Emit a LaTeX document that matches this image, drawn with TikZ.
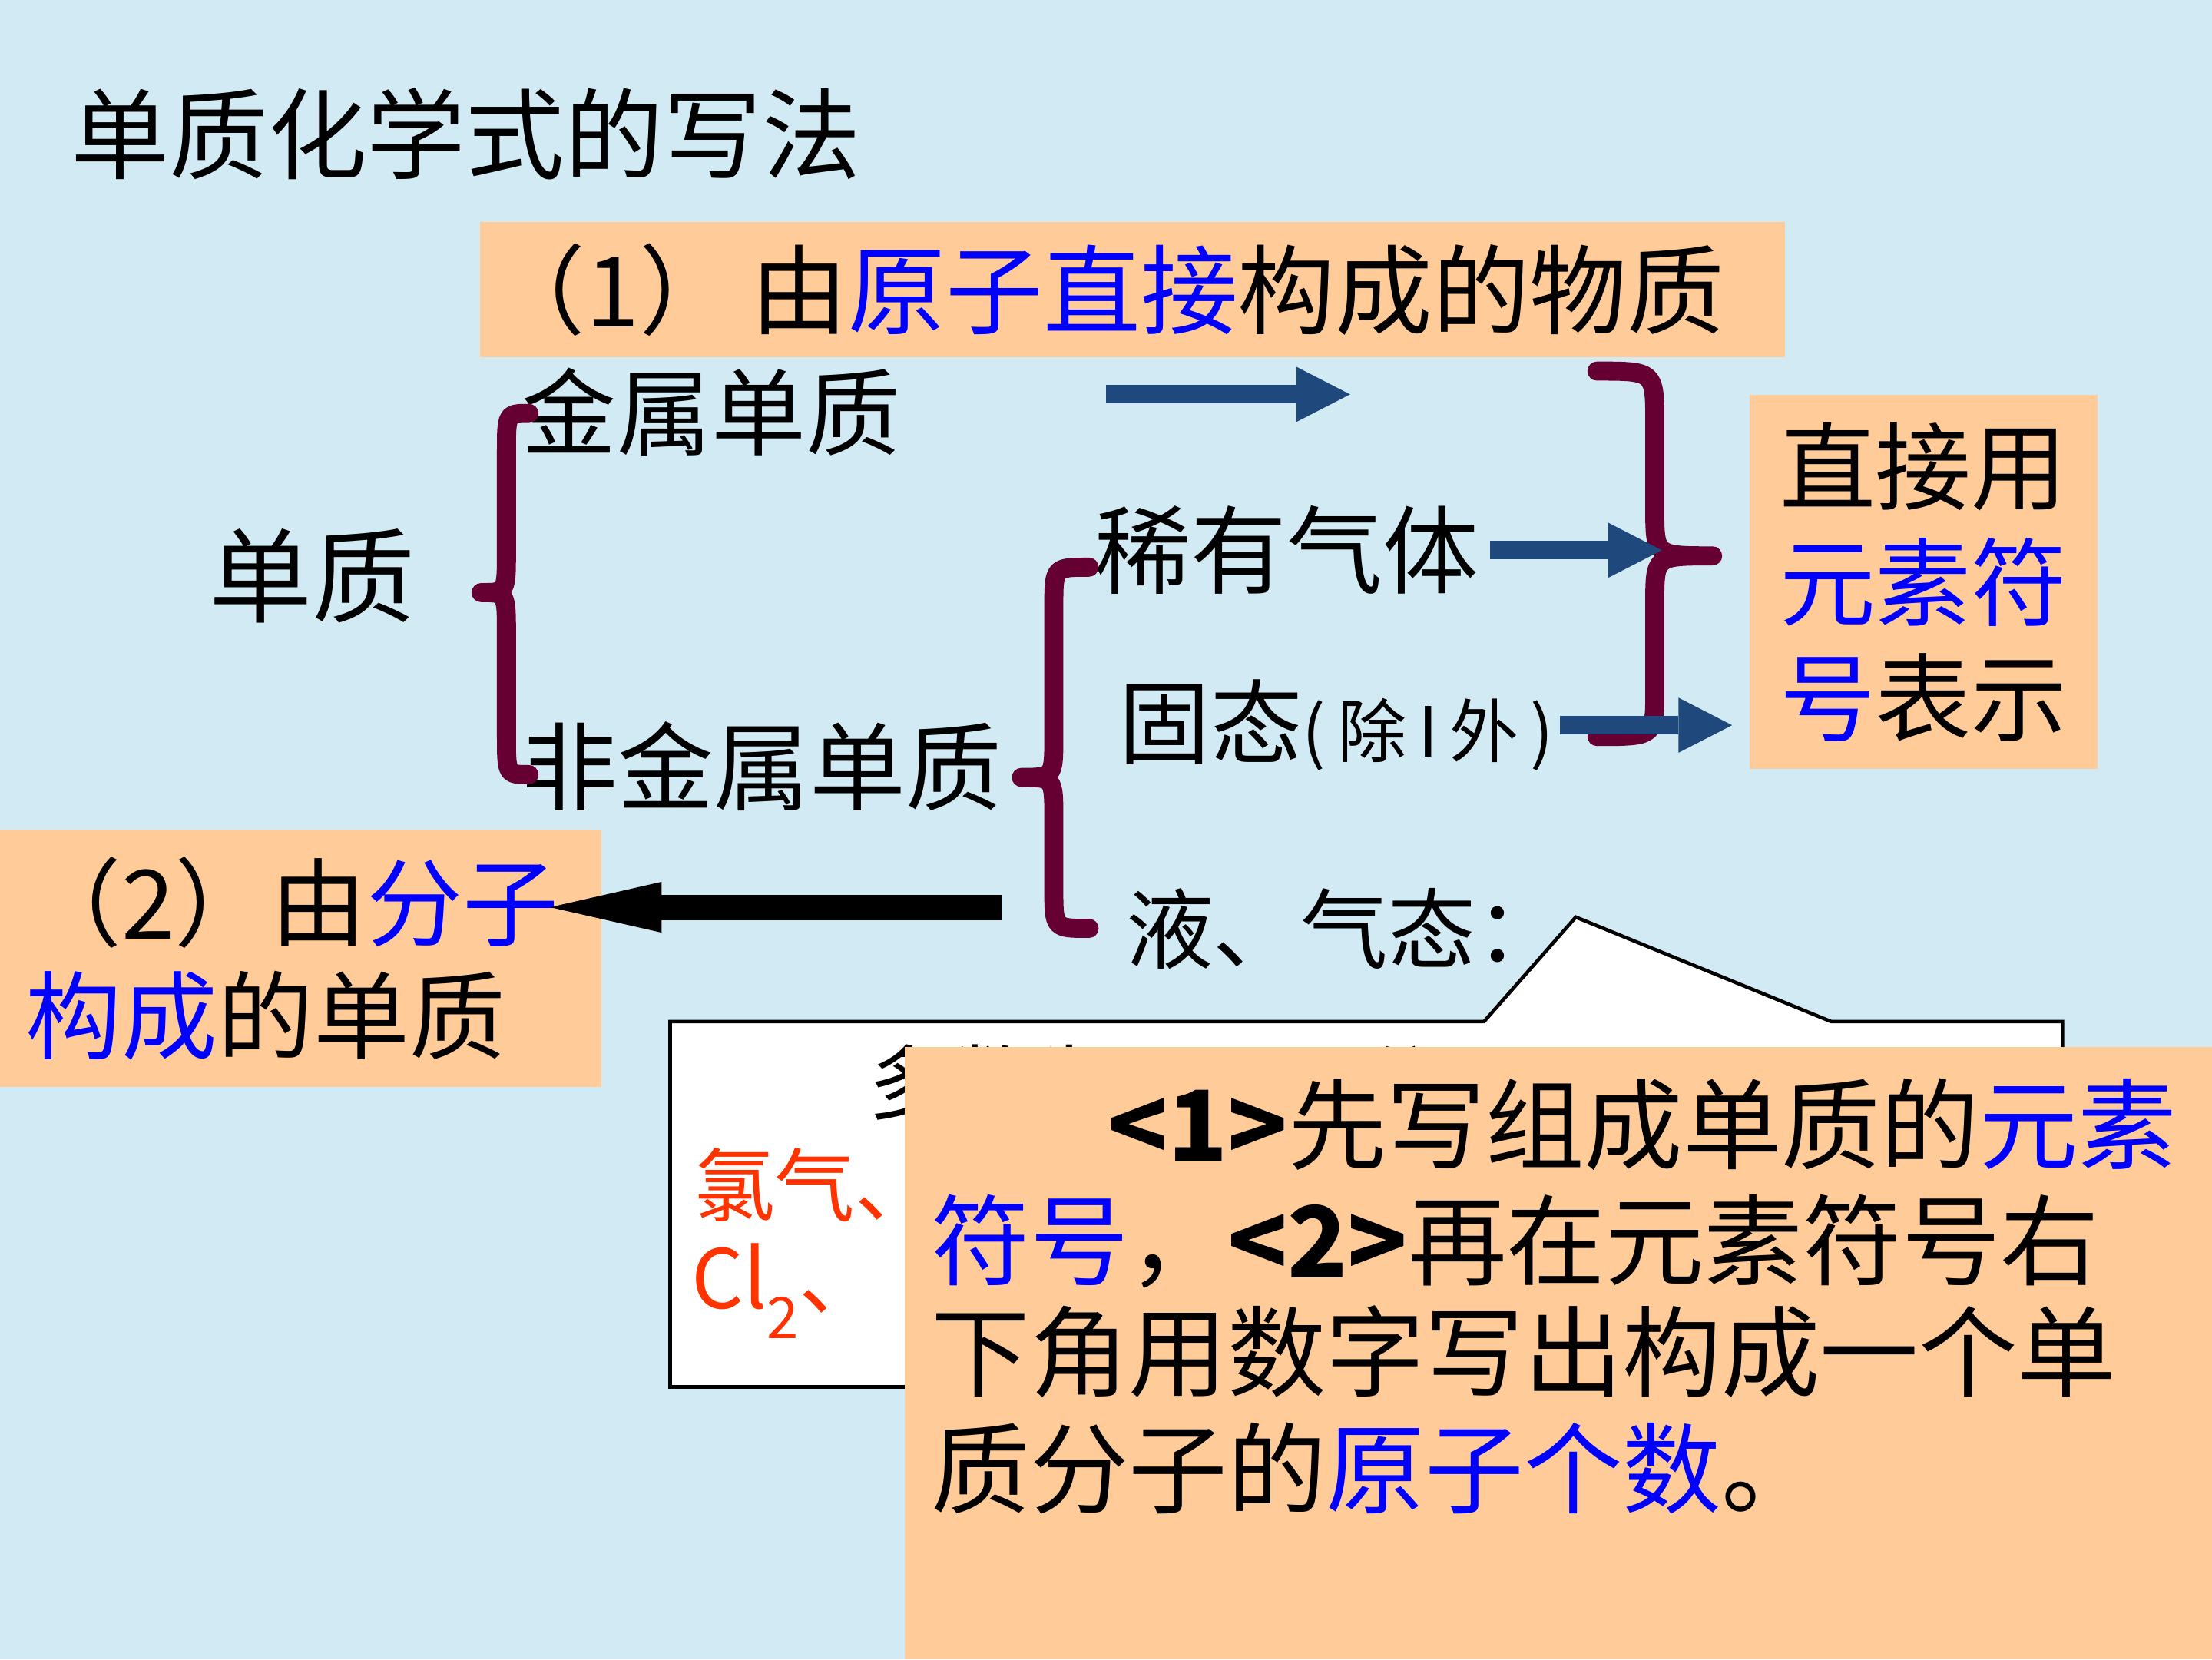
\documentclass[tikz,border=0pt]{standalone}
\usepackage{fontspec}
\setmainfont{Noto Sans CJK SC}
\usetikzlibrary{arrows.meta}
\definecolor{slidebg}{RGB}{210,234,243}
\definecolor{peach}{RGB}{255,204,153}
\definecolor{bracered}{RGB}{102,0,51}
\definecolor{arrowblue}{RGB}{31,73,125}
\definecolor{keyblue}{RGB}{0,0,255}
\definecolor{chlorred}{RGB}{255,51,0}
\newcommand{\fsz}[1]{\fontsize{#1}{#1}\selectfont}
\newcommand{\hl}[1]{\textcolor{keyblue}{#1}}

\begin{document}
\begin{tikzpicture}[x=1pt, y=-1pt,
    txt/.style={inner sep=0pt, anchor=west},
    panel/.style={fill=peach, inner sep=0pt, align=center},
    bracket/.style={draw=bracered, line width=13.5pt, line cap=round, line join=round},
    bluearrow/.style={draw=arrowblue, line width=13pt, -{Triangle[length=38pt, width=39pt, line width=0pt]}},
    backarrow/.style={draw=black, line width=18pt, -{Triangle[length=79pt, width=36pt, line width=0pt]}}]
    \useasboundingbox (0,0) rectangle (1568,1176);
    \fill[slidebg] (0,0) rectangle (1568,1176);

    % title and first group
    \node[txt, font=\fsz{70}] (title) at (50,95) {单质化学式的写法};
    \node[fill=peach, inner xsep=6pt, inner ysep=0pt, text width=913pt, minimum height=96pt, align=left,
      anchor=north west, font=\fsz{69}] (atombox) at (340,157)
      {（1）\hspace{10pt}由\hl{原子直接}构成的物质};
    \node[txt, font=\fsz{73}] (simple) at (148,408) {单质};
    \node[txt, font=\fsz{67}] (metal) at (370,292) {金属单质};
    \node[txt, font=\fsz{68}] (nonmetal) at (370,543) {非金属单质};
    \node[txt, font=\fsz{68}] (raregas) at (776,390) {稀有气体};
    \node[txt, font=\fsz{65}] (solid) at (793,514) {固态{\fsz{49}(\,除\,I\,外\,)}};
    \node[txt, font=\fsz{62}] (fluid) at (798,658) {液、气态：};
    \node[panel, minimum width=247pt, minimum height=265pt, font=\fontsize{68}{82}\selectfont] (directbox) at (1363.5,412.5)
      {直接用\\\hl{元素符}\\\hl{号}表示};

    % braces
    \draw[bracket] (375,293) .. controls (359,293) .. (359,321) -- (359,390)
      .. controls (359,420) .. (341,420) .. controls (359,420) .. (359,450) -- (359,521)
      .. controls (359,549) .. (375,549);
    \draw[bracket] (772,402) .. controls (747,402) .. (747,430) -- (747,521)
      .. controls (747,551) .. (724,551) .. controls (747,551) .. (747,581) -- (747,630)
      .. controls (747,658) .. (772,658);
    \draw[bracket] (1132,263) .. controls (1173,263) .. (1173,300) -- (1173,360)
      .. controls (1173,394) .. (1214,394) .. controls (1173,394) .. (1173,428) -- (1173,490)
      .. controls (1173,522) .. (1132,522);

    % blue arrows
    \coordinate (metalfrom) at (784,279.5);
    \coordinate (metalto) at (957,279.5);
    \coordinate (gasto) at (1178,390);
    \draw[bluearrow] (metalfrom) -- (metalto);
    \draw[bluearrow] ([xshift=8pt]raregas.east) -- (gasto);
    \draw[bluearrow] ([xshift=4pt]solid.east) -- ([xshift=-12pt]directbox.west |- solid.east);

    % molecules
    \node[fill=peach, inner xsep=18pt, inner ysep=0pt, text width=390pt, minimum height=182pt, align=left,
      anchor=north west, font=\fontsize{68}{80}\selectfont] (molbox) at (0,588)
      {（2）由\hl{分子}\\\hl{构成}的单质};
    \coordinate (molfrom) at (710,643);
    \coordinate (molto) at (390,643);
    \draw[backarrow] (molfrom) -- (molto);

    % callout
    \draw[fill=white, line width=2.5pt] (475,724) -- (1052,724) -- (1117,650) -- (1298,724)
      -- (1462,724) -- (1462,983) -- (475,983) -- cycle;
    \node[txt, font=\fsz{58}] (mostly) at (616,767) {多数为双原子分子：};
    \node[txt, font=\fsz{57}, text=chlorred] (chlorine) at (492,840) {氯气、};
    \node[txt, font=\fsz{58}, text=chlorred] (cltwo) at (490,915) {Cl\textsubscript{2}、};

    % rule box
    \node[fill=peach, inner sep=0pt, anchor=north west, minimum width=927pt, minimum height=434pt] (rulebox) at (641,742) {};
    \node[txt, font=\fsz{70}] (ruleone) at (785,797) {\textbf{<1>}先写组成单质的\hl{元素}};
    \node[txt, font=\fsz{70}] (ruletwo) at (660,880) {\hl{符号}，\textbf{<2>}再在元素符号右};
    \node[txt, font=\fsz{70}] (rulethree) at (660,958) {下角用数字写出构成一个单};
    \node[txt, font=\fsz{70}] (rulefour) at (660,1041) {质分子的\hl{原子个数}。};
\end{tikzpicture}
\end{document}
